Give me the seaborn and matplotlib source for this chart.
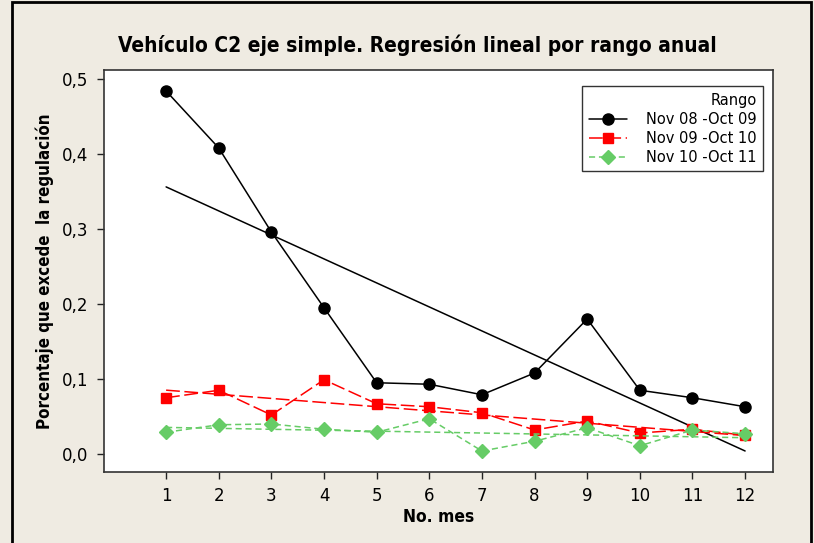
import numpy as np
import pandas as pd
import matplotlib
matplotlib.use("Agg")
import matplotlib.pyplot as plt
import seaborn as sns
from matplotlib.patches import Rectangle

meses = list(range(1, 13))
serie_08_09 = [0.484, 0.408, 0.296, 0.195, 0.095, 0.093, 0.079, 0.108, 0.180, 0.085, 0.075, 0.063]
serie_09_10 = [0.075, 0.085, 0.052, 0.099, 0.067, 0.063, 0.055, 0.032, 0.044, 0.028, 0.033, 0.025]
serie_10_11 = [0.029, 0.039, 0.040, 0.033, 0.029, 0.047, 0.004, 0.017, 0.035, 0.011, 0.032, 0.027]
rangos = ["Nov 08 -Oct 09", "Nov 09 -Oct 10", "Nov 10 -Oct 11"]
yticks = [0.0, 0.1, 0.2, 0.3, 0.4, 0.5]
ytick_labels = ["0,0", "0,1", "0,2", "0,3", "0,4", "0,5"]

sns.set_style("ticks")
plt.rcParams['font.family'] = ['DejaVu Sans']
plt.rcParams['text.color'] = 'black'
plt.rcParams['axes.labelcolor'] = 'black'
plt.rcParams['xtick.color'] = 'black'
plt.rcParams['ytick.color'] = 'black'

bg = "#efebe2"
fig = plt.figure(figsize=(8.14, 5.43), dpi=100, facecolor=bg)
ax = fig.add_axes([104/814, 1-472/543, (773-104)/814, (472-70)/543])
ax.set_facecolor("white")

styles = [
    dict(color="black", marker="o", dashes=None, ms=8),
    dict(color="#ff0000", marker="s", dashes=(9, 3), ms=7.5),
    dict(color="#66cc66", marker="D", dashes=(4, 2.5), ms=7),
]
series = [serie_08_09, serie_09_10, serie_10_11]

for vals, name, st in zip(series, rangos, styles):
    df = pd.DataFrame({"mes": meses, "valor": vals})
    kw = dict(color=st["color"], lw=1.1)
    line_kws = dict(lw=1.1)
    if st["dashes"] is not None:
        kw["dashes"] = st["dashes"]
        line_kws["dashes"] = st["dashes"]
    ax.plot(df["mes"], df["valor"], marker=st["marker"], ms=st["ms"],
            mfc=st["color"], mec=st["color"], label=name, **kw)
    sns.regplot(data=df, x="mes", y="valor", ax=ax, scatter=False, ci=None,
                color=st["color"], line_kws=line_kws)

ax.set_xlim(-0.18, 12.53)
ax.set_ylim(-0.024, 0.512)
ax.set_xticks(meses)
ax.set_xticklabels([str(m) for m in meses], fontsize=12)
ax.set_yticks(yticks)
ax.set_yticklabels(ytick_labels, fontsize=12)
ax.tick_params(direction="out", length=5, width=1, color="#222222", pad=6)
for s in ax.spines.values():
    s.set_linewidth(1.2)
    s.set_color("#333333")
ax.set_xlabel("No. mes", fontsize=12.5, fontweight="bold", labelpad=2,
              fontstretch="condensed")
ax.set_ylabel("Porcentaje que excede  la regulación", fontsize=12.2, fontweight="bold",
              labelpad=6, fontstretch="condensed")

fig.text(417/814, 1-45/543, "Vehículo C2 eje simple. Regresión lineal por rango anual",
         ha="center", va="center", fontsize=15, fontweight="bold", color="black",
         family="DejaVu Sans", fontstretch="condensed")

leg = ax.legend(title="Rango", loc="upper right", bbox_to_anchor=(0.985, 0.96),
                frameon=True, fancybox=False, edgecolor="black", fontsize=10.5,
                title_fontsize=10.5, handlelength=2.6, borderpad=0.45,
                labelspacing=0.28, handletextpad=1.3, borderaxespad=0)
leg._legend_box.align = "right"
leg.get_frame().set_linewidth(1.0)

fig.patches.append(Rectangle((12/814, -0.01), (811-12)/814, 1-2/543+0.01,
                             transform=fig.transFigure, fill=False,
                             edgecolor="black", lw=2))

fig.savefig("out.png", dpi=100, facecolor=bg)
